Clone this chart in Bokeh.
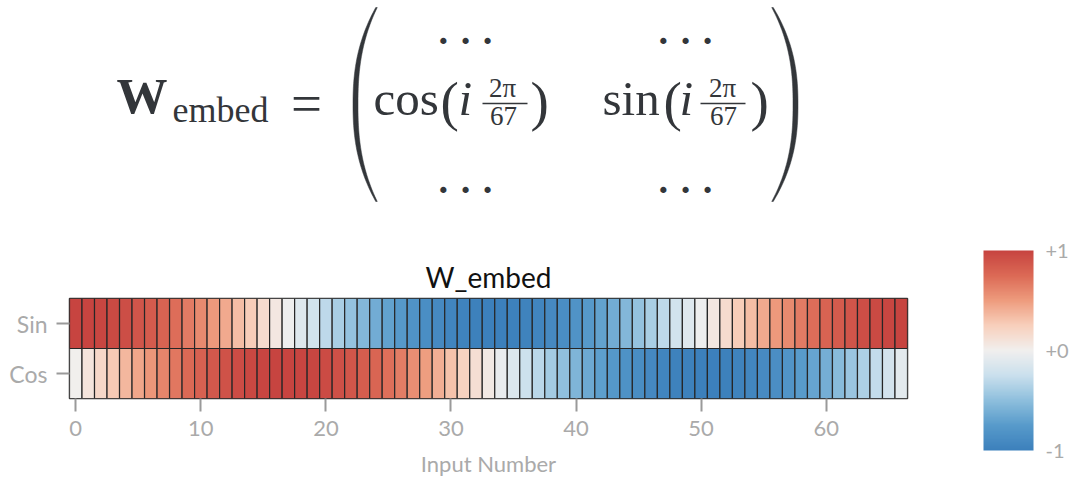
import numpy as np
from bokeh.plotting import figure
from bokeh.models import Range1d, FactorRange, LinearColorMapper, ColumnDataSource, FixedTicker, ColorBar
from bokeh.layouts import column
from bokeh.embed import file_html
from bokeh.resources import INLINE
from bokeh.core.properties import value

# ---------------- data ----------------
input_number = list(range(67))
row_labels = ["Sin", "Cos"]
sin_row = [1.00, 1.00, 0.98, 0.96, 0.93, 0.89, 0.85, 0.79, 0.73, 0.66, 0.59, 0.51, 0.43, 0.34, 0.26, 0.16,
           0.07, -0.02, -0.12, -0.21, -0.30, -0.39, -0.47, -0.55, -0.63, -0.70, -0.76, -0.82, -0.87, -0.91,
           -0.95, -0.97, -0.99, -1.00, -1.00, -0.99, -0.97, -0.95, -0.91, -0.87, -0.82, -0.76, -0.70, -0.63,
           -0.55, -0.47, -0.39, -0.30, -0.21, -0.12, -0.02, 0.07, 0.16, 0.26, 0.34, 0.43, 0.51, 0.59, 0.66,
           0.73, 0.79, 0.85, 0.89, 0.93, 0.96, 0.98, 1.00]
cos_row = [0.00, 0.09, 0.19, 0.28, 0.37, 0.45, 0.53, 0.61, 0.68, 0.75, 0.81, 0.86, 0.90, 0.94, 0.97, 0.99,
           1.00, 1.00, 0.99, 0.98, 0.95, 0.92, 0.88, 0.83, 0.78, 0.72, 0.65, 0.57, 0.49, 0.41, 0.32, 0.23,
           0.14, 0.05, -0.05, -0.14, -0.23, -0.32, -0.41, -0.49, -0.57, -0.65, -0.72, -0.78, -0.83, -0.88,
           -0.92, -0.95, -0.98, -0.99, -1.00, -1.00, -0.99, -0.97, -0.94, -0.90, -0.86, -0.81, -0.75, -0.68,
           -0.61, -0.53, -0.45, -0.37, -0.28, -0.19, -0.09]
x_ticks = [0, 10, 20, 30, 40, 50, 60]
cbar_ticks = [-1, 0, 1]
cbar_labels = ["-1", "+0", "+1"]

# ---------------- colour map ----------------
node_v = [-1, -0.75, -0.5, -0.25, 0, 0.25, 0.5, 0.75, 1]
node_rgb = [(60, 128, 188), (88, 155, 203), (142, 191, 221), (202, 224, 237), (241, 239, 238),
            (248, 208, 188), (238, 156, 126), (220, 106, 86), (199, 68, 64)]
palette = []
for v in np.linspace(-1, 1, 256):
    c = [int(round(np.interp(v, node_v, [n[k] for n in node_rgb]))) for k in range(3)]
    palette.append("#%02x%02x%02x" % tuple(c))
mapper = LinearColorMapper(palette=palette, low=-1, high=1)

# ---------------- layout geometry (page pixels) ----------------
W = 1072
FR_L, FR_R, FR_T, FR_B = 69, 907, 298, 398
EQ_H = 215
HM_H = 273

# ---------------- equation ----------------
INK = "#33363a"
SERIF = "Liberation Serif"
# borders match the heatmap's so the column layout keeps the same frame; data = page pixels
eq = figure(width=W, height=EQ_H, x_range=Range1d(FR_L, FR_R), y_range=Range1d(EQ_H, 0),
            output_backend="svg", toolbar_location=None,
            min_border_left=FR_L, min_border_right=W - FR_R, min_border_top=0, min_border_bottom=0,
            x_axis_location=None, y_axis_location=None)
eq.grid.visible = False
eq.outline_line_color = None


def put(x, base, s, size, style="normal", align="left"):
    # anchor in the middle of the em box; 'base' is the wanted baseline
    eq.text(x=[x], y=[base - 0.34 * size], text=[s], text_font=value(SERIF),
            text_font_size=f"{size}px", text_font_style=style, text_align=align,
            text_baseline="middle", text_color=INK)


put(116, 113, "W", 51, "bold")
put(172, 122, "embed", 36)
put(306, 122, "=", 55, align="center")
# column 1
put(373, 115, "cos", 49)
put(440, 120, "(", 55)
put(458, 115, "i", 49, "italic")
put(502, 97, "2π", 27, align="center")
put(503, 125, "67", 27, align="center")
put(530, 120, ")", 55)
# column 2
put(602, 115, "sin", 49)
put(663, 120, "(", 55)
put(679, 115, "i", 49, "italic")
put(722, 97, "2π", 27, align="center")
put(723, 125, "67", 27, align="center")
put(750, 120, ")", 55)
eq.segment(x0=[482, 700], y0=[103, 103], x1=[527, 745], y1=[103, 103], line_color=INK, line_width=1.6)
# dots
DOT = 38
for cx in (465, 685):
    put(cx, 37 + 0.42 * DOT, "· · ·", DOT, "bold", align="center")
    put(cx, 186 + 0.42 * DOT, "· · ·", DOT, "bold", align="center")


def paren(x_end, x_mid, y_top, y_bot, w_end=1.5, w_mid=5.0, n=80):
    t = np.linspace(0, 1, n)
    s = 2 * t - 1
    y = y_top + t * (y_bot - y_top)
    xc = x_end + (x_mid - x_end) * (1 - np.abs(s) ** 2.4)
    w = w_end + (w_mid - w_end) * (1 - s ** 2)
    xs = np.concatenate([xc - w / 2, (xc + w / 2)[::-1]])
    ys = np.concatenate([y, y[::-1]])
    eq.patch(xs, ys, fill_color=INK, line_color=INK, line_width=0.5)


paren(376, 355, 7, 201)
paren(772, 795, 7, 201)

# ---------------- heatmap ----------------
src = ColumnDataSource(dict(
    x=input_number + input_number,
    y=[row_labels[0]] * len(sin_row) + [row_labels[1]] * len(cos_row),
    v=sin_row + cos_row,
))
LBL = "#aaaaaa"
FONT = "Lato"
hm = figure(width=W, height=HM_H, x_range=Range1d(-0.5, 66.5),
            y_range=FactorRange(factors=[row_labels[1], row_labels[0]]),
            output_backend="svg", toolbar_location=None, title="W_embed",
            min_border_left=FR_L, min_border_right=W - FR_R,
            min_border_top=FR_T - EQ_H, min_border_bottom=HM_H - (FR_B - EQ_H))
hm.rect(x="x", y="y", width=1, height=1, source=src,
        fill_color={"field": "v", "transform": mapper}, line_color="#262626", line_width=1.2)
hm.grid.visible = False
hm.outline_line_color = "#3a3a3a"
hm.outline_line_width = 1.5
hm.xaxis.ticker = FixedTicker(ticks=x_ticks)
hm.xaxis.axis_label = "Input Number"
for ax in hm.axis:
    ax.axis_line_color = None
    ax.major_tick_line_color = "#9a9a9a"
    ax.major_tick_line_width = 2
    ax.major_tick_in = 0
    ax.major_tick_out = 13
    ax.minor_tick_line_color = None
    ax.major_label_text_color = LBL
    ax.major_label_text_font = FONT
hm.xaxis.major_label_text_font_size = "22px"
hm.yaxis.major_label_text_font_size = "23px"
hm.xaxis.major_label_standoff = 9
hm.yaxis.major_label_standoff = 9
hm.xaxis.axis_label_text_font = FONT
hm.xaxis.axis_label_text_font_style = "normal"
hm.xaxis.axis_label_text_color = LBL
hm.xaxis.axis_label_text_font_size = "22px"
hm.xaxis.axis_label_standoff = 11
hm.title.align = "center"
hm.title.text_font = FONT
hm.title.text_font_size = "28px"
hm.title.text_font_style = "normal"
hm.title.text_color = "#111111"

# ---------------- colour bar ----------------
CB_L, CB_T, CB_W, CB_H = 983, 250, 50, 200
cbar = ColorBar(color_mapper=mapper, orientation="vertical", width=CB_W, height=CB_H,
                location=(CB_L - FR_L, FR_B - (CB_T + CB_H)), padding=0, margin=0,
                ticker=FixedTicker(ticks=cbar_ticks),
                major_label_overrides={t: l for t, l in zip(cbar_ticks, cbar_labels)},
                major_tick_line_color=None, minor_tick_line_color=None, bar_line_color=None,
                border_line_color=None, background_fill_color=None, label_standoff=12,
                major_label_text_color=LBL, major_label_text_font=FONT,
                major_label_text_font_size="20px")
hm.add_layout(cbar)

layout = column(eq, hm)
open("out.html", "w").write(file_html(layout, INLINE))
